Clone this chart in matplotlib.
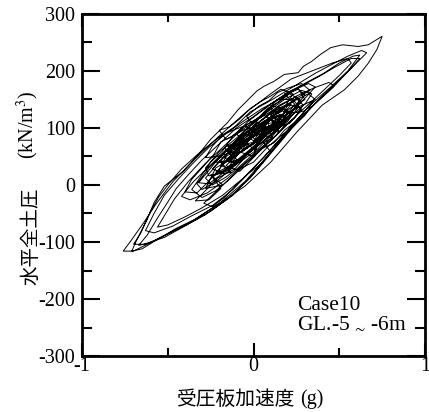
import matplotlib
matplotlib.use("Agg")
import matplotlib.pyplot as plt
from matplotlib.ticker import MultipleLocator

# ---- data: (acceleration [g], horizontal total earth pressure [kN/m^3]) ----
early_cycles = [
    (0.00, 75), (0.05, 92), (0.12, 108), (0.09, 104), (-0.02, 80), (-0.10, 56),
    (-0.06, 60), (0.02, 80), (0.10, 104), (0.16, 122), (0.12, 120), (0.03, 94),
    (-0.08, 64), (-0.15, 42), (-0.11, 40), (-0.03, 60), (0.07, 86), (0.18, 126),
    (0.22, 142), (0.17, 136), (0.05, 106), (-0.05, 78), (-0.17, 38), (-0.22, 22),
    (-0.16, 24), (-0.05, 52), (0.08, 88), (0.20, 120), (0.28, 146), (0.25, 155),
    (0.15, 140), (0.04, 112), (-0.08, 84), (-0.20, 48), (-0.27, 22), (-0.32, 4),
    (-0.26, 2), (-0.14, 30), (-0.02, 60), (0.10, 95), (0.22, 130), (0.30, 152),
    (0.36, 172), (0.32, 178), (0.23, 166), (0.12, 140), (0.01, 112), (-0.11, 76),
    (-0.24, 38), (-0.35, 6), (-0.42, -20), (-0.37, -26), (-0.27, -14), (-0.15, 12),
    (-0.02, 46), (0.12, 84), (0.25, 122), (0.38, 158),
]

strong_cycles = [
    (0.50, 192), (0.57, 214), (0.55, 222), (0.46, 214), (0.34, 200), (0.22, 186),
    (0.10, 160), (-0.05, 126), (-0.20, 86), (-0.34, 46), (-0.47, 6), (-0.57, -34),
    (-0.64, -66), (-0.72, -100), (-0.76, -116), (-0.70, -116), (-0.60, -101),
    (-0.50, -86), (-0.35, -62), (-0.20, -33), (-0.05, -2), (0.10, 40), (0.25, 92),
    (0.40, 140), (0.53, 167), (0.61, 191), (0.67, 214), (0.72, 238), (0.75, 261),
    (0.67, 246), (0.61, 243), (0.52, 246), (0.45, 241), (0.39, 229), (0.34, 217),
    (0.29, 208), (0.26, 197), (0.18, 194), (0.12, 182), (0.06, 173), (0.02, 165),
    (-0.03, 150), (-0.09, 132), (-0.15, 110), (-0.25, 80), (-0.32, 54), (-0.41, 24),
    (-0.52, -2), (-0.58, -31), (-0.62, -60), (-0.68, -96), (-0.71, -116),
    (-0.65, -112), (-0.54, -92), (-0.45, -76), (-0.34, -60), (-0.19, -30),
    (-0.05, 6), (0.08, 50), (0.20, 96), (0.33, 140), (0.45, 172), (0.55, 200),
    (0.62, 228), (0.58, 226), (0.50, 214), (0.41, 196), (0.31, 180), (0.21, 164),
    (0.10, 142), (0.00, 120), (-0.10, 100), (-0.20, 72), (-0.30, 44), (-0.38, 18),
    (-0.45, -6), (-0.50, -30), (-0.56, -58), (-0.62, -88), (-0.67, -106),
    (-0.61, -102), (-0.49, -84), (-0.38, -68), (-0.25, -46), (-0.12, -18),
    (0.00, 20), (0.12, 64), (0.25, 110), (0.38, 150), (0.50, 184), (0.60, 214),
    (0.66, 232), (0.63, 236), (0.55, 226), (0.46, 212), (0.36, 196), (0.23, 172),
    (0.11, 150), (-0.02, 128), (-0.11, 102), (-0.20, 84), (-0.31, 58), (-0.42, 28),
    (-0.50, 0), (-0.55, -20), (-0.60, -46), (-0.66, -86), (-0.70, -104),
    (-0.64, -104), (-0.52, -92), (-0.40, -72), (-0.28, -52), (-0.15, -24),
    (-0.02, 12), (0.10, 55), (0.22, 98), (0.35, 140), (0.46, 170), (0.56, 202),
    (0.62, 222), (0.57, 222), (0.47, 206), (0.38, 190), (0.28, 174), (0.16, 152),
    (0.05, 134), (-0.06, 112), (-0.16, 90), (-0.26, 66), (-0.36, 36), (-0.44, 10),
    (-0.52, -18), (-0.58, -50), (-0.63, -80), (-0.58, -84), (-0.47, -72),
    (-0.36, -54), (-0.24, -36), (-0.12, -8), (0.00, 30), (0.13, 72), (0.26, 112),
    (0.37, 146), (0.47, 174), (0.44, 180), (0.35, 170), (0.25, 156), (0.14, 136),
    (0.03, 116), (-0.08, 94), (-0.18, 66), (-0.28, 38), (-0.38, 6), (-0.46, -24),
    (-0.52, -54), (-0.56, -74), (-0.50, -70), (-0.40, -56), (-0.30, -40),
    (-0.18, -18), (-0.06, 12), (0.06, 48), (0.18, 90), (0.30, 130),
]

mid_cycles = [
    (0.22, 126), (0.27, 150), (0.21, 160), (0.15, 146), (0.08, 134), (0.03, 118),
    (-0.04, 106), (-0.12, 86), (-0.18, 60), (-0.25, 40), (-0.31, 14), (-0.36, -8),
    (-0.30, -22), (-0.22, -10), (-0.14, 10), (-0.06, 34), (0.03, 58), (0.11, 80),
    (0.18, 104), (0.24, 118), (0.29, 140), (0.25, 152), (0.19, 140), (0.13, 132),
    (0.06, 116), (-0.01, 100), (-0.09, 78), (-0.16, 52), (-0.22, 34), (-0.28, 12),
    (-0.24, 0), (-0.16, 14), (-0.09, 30), (-0.01, 52), (0.07, 72), (0.14, 96),
    (0.20, 116), (0.16, 124), (0.09, 112), (0.02, 92), (-0.05, 76), (-0.12, 56),
    (-0.19, 34), (-0.14, 28), (-0.07, 44), (0.01, 66), (0.09, 86), (0.17, 106),
    (0.23, 132), (0.30, 158), (0.26, 168), (0.18, 158), (0.11, 144), (0.04, 128),
    (-0.03, 112), (-0.10, 90),
]

core_jitter = [
    (-0.10, 90), (-0.04, 70), (-0.12, 62), (-0.02, 98), (0.06, 84), (-0.01, 72),
    (0.09, 118), (0.14, 100), (0.04, 88), (0.12, 130), (0.19, 116), (0.08, 96),
    (0.02, 110), (-0.07, 58), (-0.15, 70), (-0.09, 40), (-0.20, 42), (-0.13, 22),
    (-0.25, 18), (-0.18, 0), (-0.28, -6), (-0.22, 30), (-0.12, 48), (-0.17, 66),
    (-0.06, 80), (0.01, 60), (0.07, 102), (0.15, 92), (0.10, 140), (0.20, 130),
    (0.16, 108), (0.24, 142), (0.18, 160), (0.26, 170), (0.30, 150), (0.22, 136),
    (0.12, 112), (0.05, 124), (-0.03, 92), (0.02, 76), (-0.08, 70), (-0.14, 40),
    (-0.05, 48), (-0.11, 28), (-0.21, 12), (-0.30, -16), (-0.34, -28), (-0.26, -26),
    (-0.19, -6), (-0.24, 14), (-0.15, 30), (-0.08, 58), (0.00, 50), (0.04, 90),
    (0.11, 82), (0.08, 112), (0.17, 124), (0.13, 100), (0.21, 108), (0.28, 132),
    (0.23, 150), (0.14, 150), (0.07, 128), (0.00, 112), (-0.06, 102), (-0.13, 84),
    (-0.19, 76), (-0.23, 54), (-0.30, 30), (-0.36, 10), (-0.40, -12), (-0.33, -14),
    (-0.27, 4), (-0.20, 26), (-0.16, 50), (-0.09, 64), (-0.02, 84), (0.03, 104),
    (0.09, 96), (0.16, 118), (0.20, 140), (0.26, 154), (0.33, 166), (0.28, 178),
    (0.20, 170), (0.14, 162), (0.09, 148), (0.03, 138), (-0.04, 120), (0.01, 100),
    (-0.07, 86), (-0.03, 70), (-0.10, 52), (-0.16, 34), (-0.08, 24), (-0.02, 42),
    (0.05, 64), (0.12, 74), (0.18, 96), (0.25, 112), (0.31, 134), (0.35, 148),
    (0.30, 122), (0.22, 100), (0.15, 84), (0.08, 66), (0.00, 40), (-0.07, 30),
    (-0.15, 8), (-0.22, -12), (-0.29, -32), (-0.24, -38), (-0.17, -22), (-0.10, 0),
    (-0.03, 20), (0.04, 36), (0.10, 58), (0.06, 74), (0.13, 86), (0.19, 104),
    (0.14, 122), (0.07, 110), (0.01, 92), (-0.05, 104), (-0.12, 96), (-0.18, 88),
    (-0.24, 68), (-0.28, 48), (-0.21, 50), (-0.14, 56), (-0.07, 74), (0.00, 88),
    (0.06, 100), (0.12, 106), (0.10, 124), (0.18, 136), (0.23, 160), (0.16, 168),
    (0.10, 156), (0.04, 146), (-0.02, 134), (-0.08, 116), (-0.14, 102), (-0.20, 96),
]

decay_cycles = [
    (-0.16, 80), (-0.06, 96), (0.04, 106), (0.14, 128), (0.24, 148), (0.32, 160),
    (0.36, 150), (0.27, 138), (0.18, 122), (0.06, 92), (-0.06, 78), (-0.16, 62),
    (-0.26, 30), (-0.33, 2), (-0.30, -8), (-0.21, 8), (-0.10, 36),
    (0.02, 62), (0.12, 92), (0.21, 118), (0.30, 142), (0.34, 160), (0.28, 166),
    (0.18, 150), (0.08, 128), (-0.02, 104), (-0.10, 82), (-0.20, 58), (-0.28, 30),
    (-0.26, 16), (-0.18, 22), (-0.08, 46), (0.04, 72), (0.14, 100), (0.22, 125),
    (0.18, 134), (0.10, 118), (0.00, 96), (-0.10, 70), (-0.18, 48), (-0.24, 28),
    (-0.20, 24), (-0.10, 40), (0.00, 62), (0.10, 88), (0.20, 112), (0.26, 136),
    (0.20, 142), (0.10, 126), (0.02, 108), (-0.06, 88), (-0.15, 62), (-0.22, 40),
    (-0.16, 40), (-0.06, 60), (0.04, 80), (0.15, 104), (0.22, 124), (0.17, 130),
    (0.06, 112), (-0.04, 92), (-0.12, 70), (-0.20, 50), (-0.14, 46), (-0.04, 64),
    (0.06, 88), (0.16, 110), (0.12, 118), (0.02, 100), (-0.08, 80), (-0.15, 60),
    (-0.10, 54), (0.00, 72), (0.10, 96), (0.14, 110), (0.08, 108), (-0.02, 90),
    (-0.10, 68), (-0.06, 62), (0.03, 80), (0.10, 100), (0.05, 98), (-0.03, 82),
    (0.00, 78),
]

x_ticks = [-1, 0, 1]
x_tick_labels = ["-1", "0", "1"]
y_ticks = [-300, -200, -100, 0, 100, 200, 300]
y_tick_labels = ["-300", "-200", "-100", "0", "100", "200", "300"]

series = early_cycles + strong_cycles + mid_cycles + core_jitter + decay_cycles
accel = [p[0] for p in series]
pressure = [p[1] for p in series]

# ---- figure ----
plt.rcParams["mathtext.fontset"] = "stix"
SERIF = ["Liberation Serif", "DejaVu Serif"]
JP = ["Noto Sans CJK JP", "DejaVu Sans"]

fig = plt.figure(figsize=(4.29, 4.12), dpi=100)
ax = fig.add_axes([82 / 429, 1 - 356 / 412, 343 / 429, 342 / 412])

ax.plot(accel, pressure, color="black", lw=0.7, solid_joinstyle="miter")

ax.set_xlim(-1, 1)
ax.set_ylim(-300, 300)
ax.set_xticks(x_ticks)
ax.set_xticklabels(x_tick_labels)
ax.set_yticks(y_ticks)
ax.set_yticklabels(y_tick_labels)
ax.xaxis.set_minor_locator(MultipleLocator(0.5))
ax.yaxis.set_minor_locator(MultipleLocator(50))

for lab in ax.get_xticklabels() + ax.get_yticklabels():
    lab.set_family(SERIF)
    lab.set_fontsize(14.5)

ax.tick_params(axis="both", which="both", direction="in", top=True, right=True,
               width=1.5, colors="black")
ax.tick_params(axis="y", which="major", length=13, pad=5)
ax.tick_params(axis="y", which="minor", length=7.5)
ax.tick_params(axis="x", which="major", length=9.5, pad=1)
ax.tick_params(axis="x", which="minor", length=6)
for s in ax.spines.values():
    s.set_linewidth(2.0)

# axis labels
fig.text(295 / 429, 1 - 399 / 412, "受圧板加速度", family=JP, fontsize=14.2,
         ha="right", va="center")
fig.text(300 / 429, 1 - 399 / 412, "(g)", family=SERIF, fontsize=14.5,
         ha="left", va="center")
fig.text(31 / 429, 1 - 236 / 412, "水平全土圧", family=JP, fontsize=14,
         rotation=90, ha="center", va="center")
fig.text(28 / 429, 1 - 125 / 412, "(kN/m$^3$)", family=SERIF, fontsize=14.5,
         rotation=90, ha="center", va="center")

# annotation
ax.text(0.627, 0.148, "Case10", transform=ax.transAxes, family=SERIF,
        fontsize=15.5, ha="left", va="center")
ax.text(0.627, 0.093, "GL.-5$\\,_{\\sim}\\,$-6m", transform=ax.transAxes,
        family=SERIF, fontsize=15.5, ha="left", va="center")

fig.savefig("out.png", dpi=100)
